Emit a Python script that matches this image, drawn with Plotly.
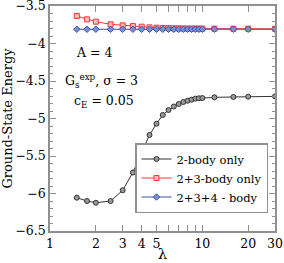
import plotly.graph_objects as go

lam = [1.5, 1.75, 2, 2.5, 3, 3.5, 4, 4.5, 5, 5.5, 6, 6.5, 7, 7.5, 8, 8.5, 9, 9.5, 10, 12, 16, 20, 30]
e_2body = [-6.056, -6.10, -6.123, -6.10, -5.957, -5.72, -5.45, -5.22, -5.07, -4.953, -4.887, -4.84,
           -4.807, -4.78, -4.763, -4.749, -4.735, -4.73, -4.727, -4.718, -4.713, -4.709, -4.705]
e_23body = [-3.633, -3.678, -3.709, -3.744, -3.758, -3.767, -3.776, -3.785, -3.790, -3.793, -3.795,
            -3.797, -3.798, -3.799, -3.800, -3.800, -3.801, -3.801, -3.801, -3.802, -3.803, -3.803, -3.804]
e_234body = [-3.81] * len(lam)

names = ["2-body only", "2+3-body only", "2+3+4 - body"]
xticks = [1, 2, 3, 4, 5, 10, 20, 30]
yticks = [-6.5, -6, -5.5, -5, -4.5, -4, -3.5]
yticktext = ["\u22126.5", "\u22126", "\u22125.5", "\u22125", "\u22124.5", "\u22124", "\u22123.5"]

FONT = "DejaVu Serif"

fig = go.Figure()
fig.add_trace(go.Scatter(x=lam, y=e_2body, name=names[0], mode="lines+markers",
                         line=dict(color="#333333", width=1),
                         marker=dict(symbol="circle", size=5, color="#999999",
                                     line=dict(color="#333333", width=1))))
fig.add_trace(go.Scatter(x=lam, y=e_23body, name=names[1], mode="lines+markers",
                         line=dict(color="#ff3333", width=1),
                         marker=dict(symbol="square", size=5, color="#ffbbbb",
                                     line=dict(color="#ff3333", width=1))))
fig.add_trace(go.Scatter(x=lam, y=e_234body, name=names[2], mode="lines+markers",
                         line=dict(color="#3b50a8", width=1.2),
                         marker=dict(symbol="diamond", size=5, color="#7a8fd8",
                                     line=dict(color="#3b50a8", width=1))))

axis_common = dict(showline=True, linecolor="#909090", linewidth=1.5, mirror="allticks",
                   ticks="inside", tickcolor="#909090", showgrid=False, zeroline=False,
                   ticklabeloverflow="allow", automargin=False,
                   tickfont=dict(family=FONT, size=12.5, color="black"))

fig.update_xaxes(type="log", range=[0, 1.4771], tickvals=xticks, ticktext=[str(v) for v in xticks],
                 ticklen=6, minor=dict(tickvals=[6, 7, 8, 9], ticks="inside", ticklen=6, tickcolor="#909090"),
                 title=dict(text="λ", font=dict(family=FONT, size=15, color="black"), standoff=8),
                 **axis_common)
fig.update_yaxes(range=[-6.5, -3.5], tickvals=yticks, ticktext=yticktext, ticklen=6,
                 minor=dict(dtick=0.1, ticks="inside", ticklen=3, tickcolor="#909090"),
                 title=dict(text="Ground-State Energy", font=dict(family=FONT, size=13, color="black"),
                            standoff=3),
                 **axis_common)

T, B = 6, 231

def px2paper(px, py):
    return (px - 50) / 225.0, (B - py) / (B - T)

annots = [("A = 4", 94, 52, "center"),
          ("G<sub>s</sub><sup>exp</sup>, σ = 3", 63, 81, "left"),
          ("c<sub>E</sub> = 0.05", 72, 101, "left")]
for txt, ax_, ay_, anc in annots:
    xp, yp = px2paper(ax_, ay_)
    fig.add_annotation(text=txt, x=xp, y=yp, xref="paper", yref="paper", showarrow=False,
                       xanchor=anc, yanchor="middle", font=dict(family=FONT, size=12.5, color="black"))

lx, ly = px2paper(268, 213)
fig.update_layout(
    width=284, height=263, margin=dict(l=50, r=9, t=T, b=263 - B),
    plot_bgcolor="white", paper_bgcolor="white",
    font=dict(family=FONT, size=13, color="black"),
    legend=dict(x=lx, y=ly, xanchor="right", yanchor="bottom", bgcolor="white",
                bordercolor="#909090", borderwidth=1.5, font=dict(family=FONT, size=11.5),
                itemwidth=30, tracegroupgap=0),
    showlegend=True,
)
fig.write_html("out.html", config={"displayModeBar": False},
               post_script="document.body.style.margin='0';document.body.style.overflow='hidden';")
